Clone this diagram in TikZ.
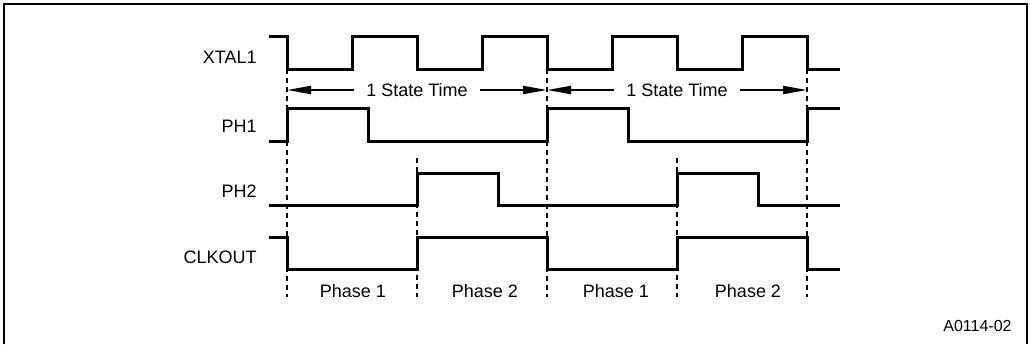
\documentclass[tikz,border=0pt]{standalone}
\usepackage{fontspec}
\setmainfont{Liberation Sans}
\usetikzlibrary{arrows.meta}
\tikzset{
  wave/.style={line width=1.5pt},
  guide/.style={line width=0.6pt, dash pattern=on 2.5pt off 2pt},
  sig/.style={anchor=base east, inner sep=0pt, font=\fontsize{9}{10}\selectfont},
  phase/.style={anchor=base, inner sep=0pt, font=\fontsize{9}{10}\selectfont},
  stime/.style={inner xsep=6pt, inner ysep=0pt, font=\fontsize{9}{10}\selectfont},
  span/.style={line width=1pt, -{Triangle[length=12pt,width=4pt]}},
}

\begin{document}
\begin{tikzpicture}[x=0.5pt, y=-0.5pt]
  \useasboundingbox (0,0) rectangle (1030,344);
  \draw[line width=1pt] (4,344) -- (4,4) -- (1027,4) -- (1027,344);

  \foreach \x in {287,547,807} \draw[guide] (\x,69) -- (\x,297);
  \foreach \x in {417,677} \draw[guide] (\x,158) -- (\x,297);

  \node[sig] (xtal) at (257,63) {XTAL1};
  \node[sig] (ph1) at (257,132) {PH1};
  \node[sig] (ph2) at (257,197) {PH2};
  \node[sig] (clk) at (257,263) {CLKOUT};

  \draw[wave] (269,36) -| (287,69) -| (352,36) -| (417,69) -| (482,36) -| (547,69)
    -| (612,36) -| (677,69) -| (742,36) -| (807,69) -- (840,69);
  \draw[wave] (269,141) -| (287,108) -| (368,141) -| (547,108) -| (628,141)
    -| (807,108) -- (840,108);
  \draw[wave] (269,205) -| (417,173) -| (498,205) -| (677,173) -| (758,205) -- (840,205);
  \draw[wave] (269,237) -| (287,269) -| (417,237) -| (547,269) -| (677,237)
    -| (807,269) -- (840,269);

  \coordinate (t0) at (287,90);
  \coordinate (t1) at (547,90);
  \coordinate (t2) at (807,90);
  \node[stime] (st1) at (417,90) {1 State Time};
  \node[stime] (st2) at (677,90) {1 State Time};
  \path[span]
  (st1) edge (t0)
  edge (t1)
  (st2) edge (t1)
  edge (t2)
  ;

  \node[phase] (pa1) at (353,297) {Phase 1};
  \node[phase] (pa2) at (485,297) {Phase 2};
  \node[phase] (pb1) at (616,297) {Phase 1};
  \node[phase] (pb2) at (748,297) {Phase 2};

  \node[anchor=base east, inner sep=0pt, font=\fontsize{8}{9}\selectfont] (fig) at (1012,331) {A0114-02};
\end{tikzpicture}
\end{document}
